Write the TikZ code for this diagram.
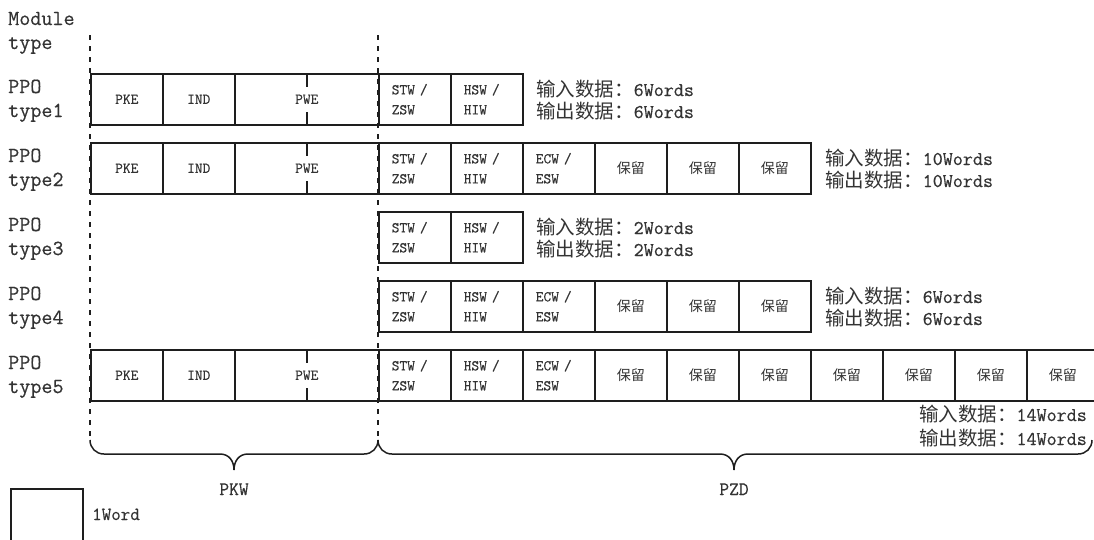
\documentclass[tikz,border=0pt]{standalone}
\usepackage{fontspec}
\setmonofont{Latin Modern Mono}[UprightFeatures={FakeBold=0.5}]
\newfontfamily\cjk{Noto Sans CJK SC}
\newcommand\myfs[2]{\fontsize{#1pt}{#2pt}\selectfont}
\definecolor{ink}{HTML}{1E1E1E}
\definecolor{txt}{HTML}{333333}
\begin{document}
\begin{tikzpicture}[x=1pt,y=-1pt,
  lineink/.style={draw=ink, line width=1.5pt},
  dashln/.style={draw=ink, line width=1.3pt, dash pattern=on 5pt off 6pt},
  cell/.style={draw=ink, line width=1.5pt, minimum width=72pt, minimum height=51pt,
    inner sep=0pt, anchor=north west, font=\myfs{15}{20}\ttfamily, text=txt},
  two/.style={cell, text width=46pt, inner xsep=13pt, align=left},
  res/.style={cell, font=\myfs{14}{16}\cjk},
  lab/.style={anchor=base west, inner sep=0pt, font=\myfs{21.5}{24}\ttfamily, text=txt},
  dat/.style={inner sep=0pt, font=\myfs{19.5}{22}, text=txt},
  big/.style={anchor=base, inner sep=0pt, font=\myfs{19}{20}\ttfamily, text=txt}]
\useasboundingbox (0,0) rectangle (1094,539);
% dashed guide lines
\coordinate (dl0) at (90,35);  \coordinate (dl1) at (90,440);
\coordinate (dr0) at (378,35); \coordinate (dr1) at (378,440);
\draw[dashln] (dl0) -- (dl1);
\draw[dashln] (dr0) -- (dr1);
% left labels
\node[lab] (m1) at (8,25) {Module};
\node[lab] (m2) at (8,49) {type};
\foreach \i/\t in {1/73,2/142,3/211,4/280,5/349}{
  \node[lab] (p\i) at (8,\t+20) {PPO};
  \node[lab] (q\i) at (8,\t+44) {type\i};
}
% PKW cells (rows 1,2,5)
\foreach \i/\t in {1/73,2/142,5/349}{
  \node[cell] (a\i) at (90,\t) {PKE};
  \node[cell] (b\i) at (162,\t) {IND};
  \node[cell, minimum width=144pt] (c\i) at (234,\t) {PWE};
  \draw[lineink] (c\i.north) -- ++(0,14);
  \draw[lineink] (c\i.south) -- ++(0,-14);
}
% PZD cells
\foreach \i/\t in {1/73,2/142,3/211,4/280,5/349}{
  \node[two] (d\i) at (378,\t) {STW /\\ZSW};
  \node[two] (e\i) at (450,\t) {HSW /\\HIW};
}
\foreach \i/\t in {2/142,4/280,5/349}{
  \node[two] (f\i) at (522,\t) {ECW /\\ESW};
  \node[res] (g\i) at (594,\t) {保留};
  \node[res] (h\i) at (666,\t) {保留};
  \node[res] (k\i) at (738,\t) {保留};
}
\node[res] (l5) at (810,349) {保留};
\node[res] (n5) at (882,349) {保留};
\node[res] (o5) at (954,349) {保留};
\node[res, minimum width=67pt, text width=72pt, align=center] (s5) at (1026,349) {保留};
% data texts
\node[dat, anchor=base west] (x1) at (536,96) {{\cjk 输入数据：}{\ttfamily 6Words}};
\node[dat, anchor=base west] (y1) at (536,118) {{\cjk 输出数据：}{\ttfamily 6Words}};
\node[dat, anchor=base west] (x2) at (825,165) {{\cjk 输入数据：}{\ttfamily 10Words}};
\node[dat, anchor=base west] (y2) at (825,187) {{\cjk 输出数据：}{\ttfamily 10Words}};
\node[dat, anchor=base west] (x3) at (536,234) {{\cjk 输入数据：}{\ttfamily 2Words}};
\node[dat, anchor=base west] (y3) at (536,256) {{\cjk 输出数据：}{\ttfamily 2Words}};
\node[dat, anchor=base west] (x4) at (825,303) {{\cjk 输入数据：}{\ttfamily 6Words}};
\node[dat, anchor=base west] (y4) at (825,325) {{\cjk 输出数据：}{\ttfamily 6Words}};
\node[dat, anchor=base east] (x5) at (1087,421) {{\cjk 输入数据：}{\ttfamily 14Words}};
\node[dat, anchor=base east] (y5) at (1087,445) {{\cjk 输出数据：}{\ttfamily 14Words}};
% braces
\draw[lineink] (dl1) .. controls (90,448) and (96,454) .. (104,454) -- (220,454)
  .. controls (229,454) and (234,461) .. (234,470)
  .. controls (234,461) and (239,454) .. (248,454) -- (364,454)
  .. controls (372,454) and (378,448) .. (dr1);
\coordinate (zr) at (1092,440);
\draw[lineink] (dr1) .. controls (378,448) and (384,454) .. (392,454) -- (720,454)
  .. controls (729,454) and (734,461) .. (734,470)
  .. controls (734,461) and (739,454) .. (748,454) -- (1078,454)
  .. controls (1086,454) and (1092,448) .. (zr);
\node[big] (pkw) at (234,495) {PKW};
\node[big] (pzd) at (734,495) {PZD};
% legend
\node[cell, minimum height=80pt] (leg) at (10,488) {};
\node[lab, font=\myfs{18.5}{20}\ttfamily] (legt) at (92,520) {1Word};
\end{tikzpicture}
\end{document}
